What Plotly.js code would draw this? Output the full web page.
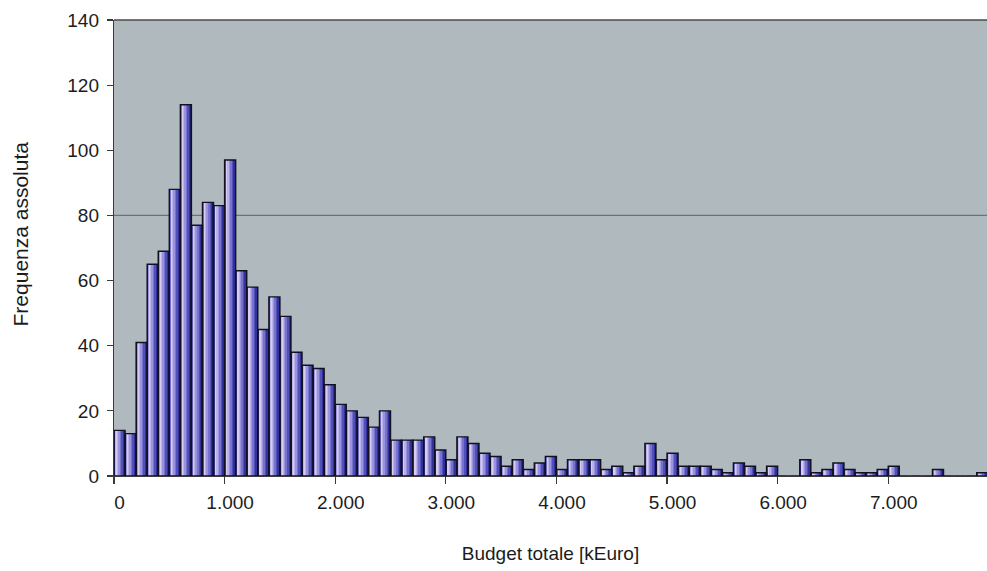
<!DOCTYPE html>
<html>
<head>
<meta charset="utf-8">
<script src="https://cdn.plot.ly/plotly-3.0.1.min.js"></script>
<style>
  html, body { margin: 0; padding: 0; background: #ffffff; }
  #chart { width: 987px; height: 571px; }
</style>
</head>
<body>
<div id="chart"></div>
<script>
// Bin lower bounds (kEuro), bin width 100
const binStart = [0,100,200,300,400,500,600,700,800,900,1000,1100,1200,1300,1400,1500,1600,1700,1800,1900,
  2000,2100,2200,2300,2400,2500,2600,2700,2800,2900,3000,3100,3200,3300,3400,3500,3600,3700,3800,3900,
  4000,4100,4200,4300,4400,4500,4600,4700,4800,4900,5000,5100,5200,5300,5400,5500,5600,5700,5800,5900,
  6000,6100,6200,6300,6400,6500,6600,6700,6800,6900,7000,7100,7200,7300,7400,7500,7600,7700,7800];
// Absolute frequency per bin
const counts = [14,13,41,65,69,88,114,77,84,83,97,63,58,45,55,49,38,34,33,28,
  22,20,18,15,20,11,11,11,12,8,5,12,10,7,6,3,5,2,4,6,
  2,5,5,5,2,3,1,3,10,5,7,3,3,3,2,1,4,3,1,3,
  0,0,5,1,2,4,2,1,1,2,3,0,0,0,2,0,0,0,1];
// Axis tick labels
const xTickVals = [0,1000,2000,3000,4000,5000,6000,7000];
const xTickText = ["0","1.000","2.000","3.000","4.000","5.000","6.000","7.000"];
const yTickVals = [0,20,40,60,80,100,120,140];

const binW = 100;
const boundaries = xTickVals.map(v => v - binW/2).concat([7950]);

// gradient layers: [left fraction, right fraction, colour]
const layers = [
  [0.00, 1.00, '#1e1e68'],
  [0.04, 0.90, '#32329a'],
  [0.07, 0.78, '#5050b8'],
  [0.09, 0.64, '#7672ce'],
  [0.11, 0.50, '#9a94de'],
  [0.13, 0.36, '#bcb2ea'],
  [0.15, 0.26, '#d8ccf2']
];

const traces = layers.map(l => ({
  type: 'bar',
  x: binStart,
  y: counts,
  width: binW * (l[1] - l[0]),
  offset: -binW/2 + binW * l[0],
  marker: { color: l[2], line: { width: 0 } },
  hoverinfo: 'skip',
  showlegend: false
}));
traces.push({
  type: 'bar',
  x: binStart,
  y: counts,
  width: binW,
  offset: -binW/2,
  marker: { color: 'rgba(0,0,0,0)', line: { color: '#111122', width: 1.4 } },
  hovertemplate: '%{x}: %{y}<extra></extra>',
  showlegend: false
});
// carrier for boundary tick marks
traces.push({
  type: 'scatter', mode: 'none', x: boundaries, y: boundaries.map(() => 0),
  xaxis: 'x2', yaxis: 'y', hoverinfo: 'skip', showlegend: false
});

const xRange = [-50, 7843];
const font = 'Liberation Sans, Arial, sans-serif';
const txt = '#1c1c1c';

const layout = {
  width: 987, height: 571,
  margin: { l: 114, r: 0, t: 20, b: 95 },
  paper_bgcolor: '#ffffff',
  plot_bgcolor: '#b0babe',
  barmode: 'overlay',
  bargap: 0,
  font: { family: font, color: txt, size: 19 },
  xaxis: {
    range: xRange,
    tickmode: 'array', tickvals: xTickVals, ticktext: xTickText,
    ticks: '', showgrid: false, zeroline: false,
    showline: true, linecolor: '#3a3a3a', linewidth: 1.2,
    ticklabelstandoff: 9,
    tickfont: { family: font, size: 19, color: txt },
    title: { text: 'Budget totale [kEuro]', font: { family: font, size: 19, color: txt }, standoff: 34 }
  },
  xaxis2: {
    range: xRange, overlaying: 'x', anchor: 'y', side: 'bottom',
    tickmode: 'array', tickvals: boundaries,
    ticks: 'outside', ticklen: 7, tickwidth: 1.2, tickcolor: '#3a3a3a',
    showticklabels: false, showgrid: false, zeroline: false, showline: false
  },
  yaxis: {
    range: [0, 140],
    tickmode: 'array', tickvals: yTickVals,
    ticks: 'outside', ticklen: 6, tickwidth: 1.2, tickcolor: '#3a3a3a',
    showgrid: false, zeroline: false,
    showline: true, linecolor: '#3a3a3a', linewidth: 1.2,
    ticklabelstandoff: 4,
    tickfont: { family: font, size: 19, color: txt }
  },
  annotations: [
    { text: 'Frequenza assoluta', textangle: -90, xref: 'paper', yref: 'paper',
      x: -0.1075, y: 0.53, xanchor: 'center', yanchor: 'middle', showarrow: false,
      font: { family: font, size: 21, color: txt } }
  ],
  shapes: [
    { type: 'line', xref: 'paper', yref: 'y', x0: 0, x1: 1, y0: 80, y1: 80,
      line: { color: '#6a7377', width: 1.2 }, layer: 'below' },
    { type: 'line', xref: 'paper', yref: 'paper', x0: 0, x1: 1, y0: 1, y1: 1,
      line: { color: '#4a4a4a', width: 1.5 } }
  ]
};

Plotly.newPlot('chart', traces, layout, { displayModeBar: false, staticPlot: true });
</script>
</body>
</html>
